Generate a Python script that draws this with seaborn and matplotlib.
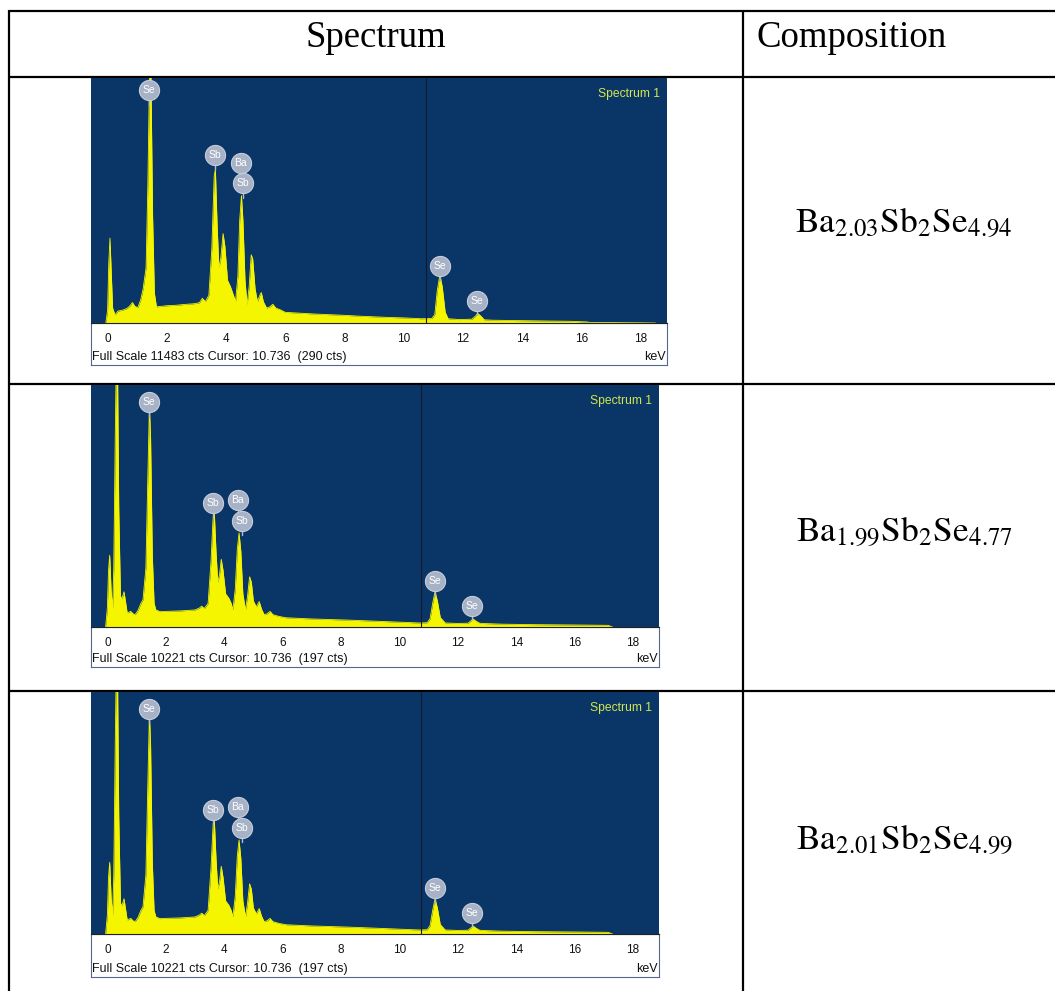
import matplotlib
matplotlib.use("Agg")
import matplotlib.pyplot as plt
from matplotlib.ticker import MultipleLocator
import seaborn as sns

sns.set_style("white")
plt.rcParams["font.family"] = ["Liberation Sans", "DejaVu Sans"]
plt.rcParams["mathtext.fontset"] = "stix"

W, H = 1055, 991

# Widmo 1 (keV, zliczenia)
energy1 = [-0.06, 0.0, 0.04, 0.08, 0.12, 0.17, 0.25, 0.35, 0.5, 0.65, 0.75, 0.84, 0.92,
           1.02, 1.12, 1.2, 1.3, 1.36, 1.42, 1.46, 1.52, 1.58, 1.65, 1.8, 2.0, 2.3, 2.6,
           2.9, 3.1, 3.2, 3.3, 3.42, 3.52, 3.6, 3.64, 3.7, 3.76, 3.82, 3.9, 3.96, 4.05,
           4.15, 4.25, 4.32, 4.4, 4.46, 4.52, 4.57, 4.64, 4.71, 4.78, 4.85, 4.9, 4.98,
           5.06, 5.14, 5.19, 5.26, 5.37, 5.48, 5.58, 5.68, 5.83, 6.0, 6.5, 7.0, 7.5, 8.0,
           8.5, 9.0, 9.5, 10.0, 10.6, 10.95, 11.05, 11.13, 11.22, 11.3, 11.4, 11.5, 11.9,
           12.3, 12.42, 12.5, 12.6, 12.72, 13.0, 14.0, 15.0, 15.6, 16.2, 16.3, 17.0, 18.0,
           18.5]
counts1 = [0, 600, 2800, 3980, 2500, 700, 380, 560, 600, 680, 800, 960, 780,
           720, 1100, 1600, 2600, 6500, 12000, 12000, 5000, 1400, 760, 780, 810, 830, 870,
           900, 950, 1160, 1000, 1300, 3500, 6900, 7200, 4500, 2600, 3000, 4190, 3600, 2000,
           1700, 1300, 1000, 2200, 4800, 5970, 4800, 2000, 850, 1700, 3200, 3000, 1600,
           1000, 1300, 1430, 1000, 700, 760, 880, 700, 620, 500, 460, 420, 390, 360,
           320, 290, 260, 240, 200, 210, 400, 1500, 2250, 1700, 500, 200, 160,
           180, 320, 450, 330, 150, 130, 110, 90, 80, 50, 20, 20, 10,
           0]

# Widmo 2 (to samo widmo pokazane w trzecim wierszu)
energy2 = [-0.06, 0.0, 0.04, 0.08, 0.13, 0.18, 0.22, 0.27, 0.3, 0.35, 0.39, 0.45, 0.5,
           0.57, 0.63, 0.68, 0.8, 0.88, 0.95, 1.05, 1.15, 1.22, 1.32, 1.38, 1.44, 1.48,
           1.54, 1.6, 1.66, 1.8, 2.0, 2.5, 3.0, 3.15, 3.23, 3.32, 3.45, 3.55, 3.62, 3.66,
           3.72, 3.78, 3.84, 3.9, 3.96, 4.05, 4.16, 4.24, 4.3, 4.38, 4.45, 4.51, 4.57,
           4.64, 4.73, 4.8, 4.87, 4.93, 5.0, 5.1, 5.2, 5.28, 5.37, 5.47, 5.57, 5.67, 5.87,
           6.12, 7.0, 8.28, 9.5, 10.68, 10.95, 11.05, 11.14, 11.22, 11.3, 11.4, 11.57,
           12.0, 12.35, 12.45, 12.53, 12.62, 12.75, 12.84, 13.5, 14.6, 16.0, 17.15, 17.3]
counts2 = [0, 800, 2400, 3030, 1500, 800, 2500, 8000, 10800, 10800, 5000, 1300, 1200,
           1490, 1000, 590, 660, 560, 520, 700, 1000, 1150, 2500, 6000, 9300, 8000,
           3000, 1000, 725, 650, 660, 680, 720, 800, 880, 780, 1000, 2800, 4600, 4890,
           3200, 1900, 2200, 2860, 2400, 1400, 1215, 1000, 725, 1600, 3300, 3970, 3200,
           1400, 725, 1300, 2120, 1900, 1100, 850, 1075, 750, 520, 560, 660, 520, 450,
           390, 340, 290, 230, 170, 180, 350, 1000, 1490, 1100, 400, 170,
           150, 160, 260, 335, 250, 160, 150, 120, 100, 85, 70, 0]

# Znaczniki pierwiastków: symbol, energia, wysokość kółka
elements = ["Se", "Sb", "Ba", "Sb", "Se", "Se"]
marks1_x = [1.40, 3.62, 4.49, 4.58, 11.21, 12.48]
marks1_y = [10900, 7860, 7520, 6550, 2680, 1050]
marks2_x = [1.41, 3.62, 4.47, 4.60, 11.23, 12.50]
marks2_y = [9500, 5240, 5360, 4490, 1940, 900]

full_scale = [11483, 10221, 10221]
cursor_cts = [290, 197, 197]
cursor_kev = 10.736
tick_values = list(range(0, 19))
tick_labels = [str(t) if t % 2 == 0 else "" for t in tick_values]

compositions = [r"$\mathrm{Ba}_{2.03}\mathrm{Sb}_{2}\mathrm{Se}_{4.94}$",
                r"$\mathrm{Ba}_{1.99}\mathrm{Sb}_{2}\mathrm{Se}_{4.77}$",
                r"$\mathrm{Ba}_{2.01}\mathrm{Sb}_{2}\mathrm{Se}_{4.99}$"]
headers = ["Spectrum", "Composition"]

spectra = [(energy1, counts1, marks1_x, marks1_y),
           (energy2, counts2, marks2_x, marks2_y),
           (energy2, counts2, marks2_x, marks2_y)]

BLUE = "#0a3567"
YELLOW = "#f5f500"

fig = plt.figure(figsize=(W / 100, H / 100), dpi=100)


def px_axes(x0, y0, x1, y1):
    return fig.add_axes([x0 / W, 1 - y1 / H, (x1 - x0) / W, (y1 - y0) / H])


# Tabela
tab = px_axes(0, 0, W, H)
tab.set_xlim(0, W)
tab.set_ylim(H, 0)
tab.axis("off")
for y in [11, 77, 383.5, 691]:
    tab.plot([9, W], [y, y], color="black", lw=1.6, solid_capstyle="butt")
for x in [9, 742.5]:
    tab.plot([x, x], [10, H], color="black", lw=1.6, solid_capstyle="butt")
tab.text(376, 47, headers[0], family="Liberation Serif", fontsize=26.5, ha="center",
         va="baseline", color="black")
tab.text(757, 47, headers[1], family="Liberation Serif", fontsize=26.5, ha="left",
         va="baseline", color="black")
for comp, yb in zip(compositions, [232, 541, 849]):
    tab.text(904, yb, comp, fontsize=25.5, ha="center", va="baseline", color="black")

# Pozycje obrazków widm: lewo, góra, prawo, linia bazowa, dół
panels = [(91, 78, 667, 323, 365), (91, 385, 659, 627, 667), (91, 692, 659, 934, 977)]

for i, (x0, y0, x1, base, y1) in enumerate(panels):
    energy, counts, mx, my = spectra[i]
    fs = full_scale[i]

    box = px_axes(x0, base, x1, y1)
    box.set_xticks([])
    box.set_yticks([])
    box.set_facecolor("white")
    for s in box.spines.values():
        s.set_color("#56668a")
        s.set_linewidth(0.8)
    box.text(0.002, 0.19, f"Full Scale {fs} cts Cursor: {cursor_kev}  ({cursor_cts[i]} cts)",
             transform=box.transAxes, fontsize=9, ha="left", va="center", color="#111111")
    box.text(0.997, 0.19, "keV", transform=box.transAxes, fontsize=9, ha="right", va="center",
             color="#111111")

    ax = px_axes(x0, y0, x1, base)
    ax.set_facecolor(BLUE)
    ax.fill_between(energy, counts, color=YELLOW, lw=0)
    sns.lineplot(x=energy, y=counts, ax=ax, color=YELLOW, linewidth=0.6)
    ax.axvline(cursor_kev, color="#141a2a", lw=0.8)
    ax.set_xlim(-0.56, 18.89)
    ax.set_ylim(0, fs)
    ax.set_yticks([])
    ax.set_xticks(tick_values)
    ax.set_xticklabels(tick_labels)
    ax.xaxis.set_minor_locator(MultipleLocator(0.1))
    ax.tick_params(axis="x", which="major", direction="out", length=3.5, width=0.6,
                   color="#333333", labelsize=8.5, pad=3.5, labelcolor="#111111")
    ax.tick_params(axis="x", which="minor", direction="out", length=2, width=0.5,
                   color="#333333")
    ax.set_xlabel("")
    ax.set_ylabel("")
    for side in ["left", "top", "right"]:
        ax.spines[side].set_visible(False)
    ax.spines["bottom"].set_color("#222222")
    ax.spines["bottom"].set_linewidth(0.8)

    for el, ex, ey in zip(elements, mx, my):
        ax.plot([ex, ex], [ey, ey - 0.06 * fs], color="#b4bdcc", lw=1.0)
        ax.plot(ex, ey, "o", ms=14.5, mfc="#a7b2c6", mec="#c6cdda", mew=0.8)
        ax.text(ex, ey, el, color="white", fontsize=7.5, ha="center", va="center")

    ax.text(0.988, 0.96, "Spectrum 1", transform=ax.transAxes, color="#d2e64a",
            ha="right", va="top", fontsize=8.7)

fig.savefig("out.png", dpi=100)
